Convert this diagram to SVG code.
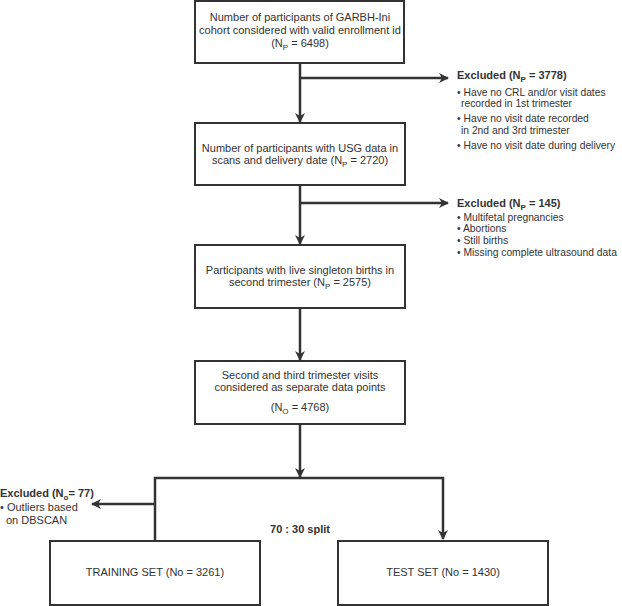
<svg xmlns="http://www.w3.org/2000/svg" width="622" height="606" viewBox="0 0 622 606">
<defs>
<style>
text{font-family:"Liberation Sans",Arial,sans-serif;font-size:11px;fill:#333}
.c{text-anchor:middle}
.b{font-weight:bold}
.s{font-size:10.3px}
.box{fill:#fff;stroke:#333;stroke-width:2}
.ln{fill:none;stroke:#333;stroke-width:2.5}
.sub{font-size:8px}
</style>
<marker id="ah" markerWidth="10" markerHeight="10" refX="9" refY="5" orient="auto" markerUnits="userSpaceOnUse">
<path d="M0,0 L10,5 L0,10 L3,5 Z" fill="#333"/>
</marker>
</defs>
<rect width="622" height="606" fill="#fff"/>
<g id="connectors">
<line class="ln" x1="300" y1="63" x2="300" y2="122" marker-end="url(#ah)"/>
<line class="ln" x1="300" y1="78" x2="448" y2="78" marker-end="url(#ah)"/>
<line class="ln" x1="300" y1="185" x2="300" y2="244" marker-end="url(#ah)"/>
<line class="ln" x1="300" y1="203" x2="448" y2="203" marker-end="url(#ah)"/>
<line class="ln" x1="300" y1="308" x2="300" y2="360" marker-end="url(#ah)"/>
<line class="ln" x1="300" y1="424" x2="300" y2="477" marker-end="url(#ah)"/>
<polyline class="ln" points="155,540 155,478 443,478 443,539" marker-end="url(#ah)"/>
<line class="ln" x1="155" y1="504" x2="92" y2="504" marker-end="url(#ah)"/>
</g>
<g id="n1">
<rect class="box" x="195" y="1" width="209" height="62"/>
<text class="c" x="300" y="21">Number of participants of GARBH-Ini</text>
<text class="c" x="300" y="34">cohort considered with valid enrollment id</text>
<text class="c" x="300" y="47">(N<tspan class="sub" dy="3">P</tspan><tspan dy="-3"> = 6498)</tspan></text>
</g>
<g id="ex1">
<text x="457" y="79"><tspan class="b">Excluded (N</tspan><tspan class="sub b" dy="2.5">P</tspan><tspan class="b" dy="-2.5"> = 3778)</tspan></text>
<text class="s" x="457" y="96">• Have no CRL and/or visit dates</text>
<text class="s" x="461" y="107">recorded in 1st trimester</text>
<text class="s" x="457" y="122">• Have no visit date recorded</text>
<text class="s" x="461" y="134">in 2nd and 3rd trimester</text>
<text class="s" x="457" y="149">• Have no visit date during delivery</text>
</g>
<g id="n2">
<rect class="box" x="195" y="123" width="210" height="62"/>
<text class="c" x="300" y="152">Number of participants with USG data in</text>
<text class="c" x="300" y="164">scans and delivery date (N<tspan class="sub" dy="3">P</tspan><tspan dy="-3"> = 2720)</tspan></text>
</g>
<g id="ex2">
<text x="457" y="207"><tspan class="b">Excluded (N</tspan><tspan class="sub b" dy="2.5">P</tspan><tspan class="b" dy="-2.5"> = 145)</tspan></text>
<text class="s" x="457" y="221">• Multifetal pregnancies</text>
<text class="s" x="457" y="232">• Abortions</text>
<text class="s" x="457" y="244">• Still births</text>
<text class="s" x="457" y="256">• Missing complete ultrasound data</text>
</g>
<g id="n3">
<rect class="box" x="195" y="245" width="210" height="63"/>
<text class="c" x="300" y="274">Participants with live singleton births in</text>
<text class="c" x="300" y="286">second trimester (N<tspan class="sub" dy="3">P</tspan><tspan dy="-3"> = 2575)</tspan></text>
</g>
<g id="n4">
<rect class="box" x="195" y="361" width="210" height="63"/>
<text class="c" x="300" y="379">Second and third trimester visits</text>
<text class="c" x="300" y="391">considered as separate data points</text>
<text class="c" x="300" y="411">(N<tspan class="sub" dy="3">O</tspan><tspan dy="-3"> = 4768)</tspan></text>
</g>
<g id="ex3">
<text x="0" y="497"><tspan class="b">Excluded (N</tspan><tspan class="sub b" dy="2.5">o</tspan><tspan class="b" dy="-2.5">= 77)</tspan></text>
<text x="0" y="511">• Outliers based</text>
<text x="6" y="524">on DBSCAN</text>
</g>
<g id="split">
<text class="c b" x="300" y="533">70 : 30 split</text>
</g>
<g id="train">
<rect class="box" x="50" y="541" width="210" height="64"/>
<text class="c" x="155" y="576">TRAINING SET (No = 3261)</text>
</g>
<g id="test">
<rect class="box" x="338" y="541" width="210" height="64"/>
<text class="c" x="443" y="576">TEST SET (No = 1430)</text>
</g>
</svg>
